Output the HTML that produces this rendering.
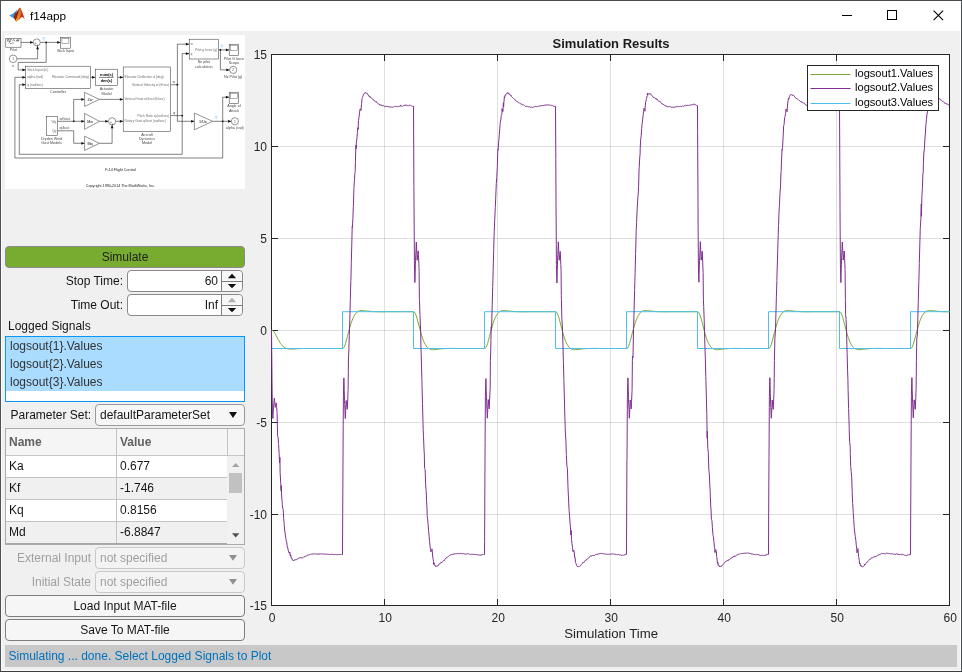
<!DOCTYPE html>
<html><head><meta charset="utf-8"><title>f14app</title>
<style>
html,body{margin:0;padding:0}
body{width:962px;height:672px;overflow:hidden;background:#f0f0f0;font-family:"Liberation Sans",sans-serif;font-size:12px;color:#151515;position:relative}
.abs{position:absolute;box-sizing:border-box}
.frame{left:0;top:0;width:962px;height:672px;border:1px solid #4c5258;border-top-color:#4a4a4a;border-bottom-color:#3c3c3c;pointer-events:none;z-index:10}
.titlebar{left:1px;top:1px;width:960px;height:30px;background:#fff}
.title{left:30px;top:9px;font-size:11.8px;color:#000;line-height:15px}
.plot{position:absolute;left:0;top:0}
.btn{border:1px solid #7d7d7d;border-radius:4px;background:#f6f6f6;text-align:center;line-height:20px;height:22px;left:5px;width:240px}
.lbl{line-height:22px;height:22px;white-space:nowrap}
.r{text-align:right}
.edit{border:1px solid #888;border-radius:4px;background:#fff;height:22px}
.dis{color:#a0a0a0}
</style></head><body>
<div class="abs titlebar"></div>
<svg class="abs" style="left:4px;top:2px" width="26" height="26" viewBox="4 2 26 26">
<defs><linearGradient id="mg" x1="0" y1="0" x2="0" y2="1"><stop offset="0" stop-color="#de5a1b"/><stop offset=".7" stop-color="#ee8823"/><stop offset="1" stop-color="#f8b82b"/></linearGradient>
<linearGradient id="mb" x1="0" y1="0" x2="1" y2="0"><stop offset="0" stop-color="#55aae8"/><stop offset="1" stop-color="#2479c2"/></linearGradient></defs>
<path d="M9 15.5 L12.8 13.7 C14.6 12.6 16 11.2 17.3 9.6 L16.4 12.6 L14.4 15.8 L13.8 18.2 L11.6 17 Z" fill="url(#mb)"/>
<path d="M13.8 18 C14 16.4 14.4 14.6 15 13.6 C16.6 12.4 18 10.4 19.1 7.9 L20.1 7.7 L19.6 14 L16.2 21.6 Z" fill="#8f2410"/>
<path d="M19.9 7.7 C21.6 8.4 22.8 14.6 25 19.2 C23.6 17.8 22.6 16.9 21.7 16.9 C20.6 17.3 19.4 19.4 18.2 20.6 L20.4 12.5 Z" fill="#c3341a"/>
<path d="M19.3 7.9 C20.5 7.4 21.1 9.8 21.3 12.2 C21.1 15.4 18.7 20.2 16.4 22 L15.6 20.6 C17.4 17 18.6 11.4 19.3 7.9 Z" fill="url(#mg)"/>
</svg>
<div class="abs title">f14app</div>
<svg class="abs" style="left:822px;top:1px" width="139" height="30" viewBox="822 1 139 30" shape-rendering="crispEdges">
<line x1="842" y1="15.5" x2="852" y2="15.5" stroke="#000"/>
<rect x="887.5" y="10.5" width="9" height="9" fill="none" stroke="#000"/>
<g shape-rendering="auto"><path d="M933.6 10.6 L943.1 20.1 M943.1 10.6 L933.6 20.1" stroke="#000" stroke-width="1.1" fill="none"/></g>
</svg>

<!-- simulink model picture -->
<svg class="abs" style="left:5px;top:35px" width="240" height="154" viewBox="5 35 240 154">
<style>
.dg{fill:none;stroke:#1a1a1a;stroke-width:.55}
.db{fill:#fff;stroke:#2a2a2a;stroke-width:.5}
.dt{font-family:"Liberation Sans",sans-serif;font-size:3.7px;fill:#4a4a4a}
.pl{font-size:3.3px;fill:#6e6e6e}
.dh{fill:#111;stroke:none}
.bl{fill:none;stroke:#7dbcf0;stroke-width:.45}
</style>
<rect x="5" y="35" width="240" height="154" fill="#fff"/>
<!-- signal lines -->
<g class="dg">
<path d="M21 42.4 H33.2"/>
<path d="M40.3 42.4 H60.5"/>
<path d="M17 58.8 H37.6 V46.2"/>
<path d="M46.2 42.4 V62.4 H18.2 V69.9 H25.7"/>
<path d="M90.5 77.3 H95.3"/>
<path d="M117.6 77.3 H123.2"/>
<path d="M57.7 121.3 H84.6"/>
<path d="M73.7 121.3 V99.4 H84.6"/>
<path d="M57.7 130.8 H73.7 V143.3 H84.6"/>
<path d="M99.4 99.4 H123.2"/>
<path d="M99.4 121.3 H108.5"/>
<path d="M115.7 121.3 H123.2"/>
<path d="M99.4 143.3 H112.1 V125"/>
<path d="M170.6 84.7 H177.4"/>
<path d="M177.4 44.2 V121.3 H194.4"/>
<path d="M177.4 44.2 H189.2"/>
<path d="M170.6 115.6 H182.2"/>
<path d="M182.2 53.6 V154.3 H19.3 V84.7 H25.7"/>
<path d="M182.2 53.6 H189.2"/>
<path d="M218.6 49.9 H229.2"/>
<path d="M220.4 49.9 V69.9 H229.6"/>
<path d="M212.6 121.3 H231.3"/>
<path d="M222.7 97.2 V158 H14.9 V77.3 H25.7"/>
<path d="M222.7 97.2 H229.2"/>
</g>
<!-- arrow heads -->
<g class="dh">
<path d="M33.4 42.4 l-3.3 -1.4 v2.8z"/>
<path d="M60.5 42.4 l-3.3 -1.4 v2.8z"/>
<path d="M37.6 46 l-1.4 3.3 h2.8z"/>
<path d="M25.7 69.9 l-3.3 -1.4 v2.8z"/>
<path d="M25.7 77.3 l-3.3 -1.4 v2.8z"/>
<path d="M25.7 84.7 l-3.3 -1.4 v2.8z"/>
<path d="M95.3 77.3 l-3.3 -1.4 v2.8z"/>
<path d="M123.2 77.3 l-3.3 -1.4 v2.8z"/>
<path d="M84.6 99.4 l-3.3 -1.4 v2.8z"/>
<path d="M84.6 121.3 l-3.3 -1.4 v2.8z"/>
<path d="M84.6 143.3 l-3.3 -1.4 v2.8z"/>
<path d="M123.2 99.4 l-3.3 -1.4 v2.8z"/>
<path d="M108.6 121.3 l-3.3 -1.4 v2.8z"/>
<path d="M123.2 121.3 l-3.3 -1.4 v2.8z"/>
<path d="M112.1 124.9 l-1.4 3.3 h2.8z"/>
<path d="M189.2 44.2 l-3.3 -1.4 v2.8z"/>
<path d="M189.2 53.6 l-3.3 -1.4 v2.8z"/>
<path d="M194.4 121.3 l-3.3 -1.4 v2.8z"/>
<path d="M229.2 49.9 l-3.3 -1.4 v2.8z"/>
<path d="M229.6 69.9 l-3.3 -1.4 v2.8z"/>
<path d="M231.3 121.3 l-3.3 -1.4 v2.8z"/>
<path d="M229.2 97.2 l-3.3 -1.4 v2.8z"/>
<circle cx="46.2" cy="42.4" r=".9"/>
<circle cx="73.7" cy="121.3" r=".9"/>
<circle cx="177.4" cy="84.7" r=".9"/>
<circle cx="182.2" cy="115.6" r=".9"/>
<circle cx="220.4" cy="49.9" r=".9"/>
<circle cx="222.7" cy="121.3" r=".9"/>
</g>
<!-- blocks -->
<g class="db">
<rect x="5.8" y="38.5" width="15.2" height="8.7"/>
<circle cx="36.8" cy="42.4" r="3.5"/>
<rect x="60.5" y="37.4" width="9.8" height="10.8"/>
<rect x="61.9" y="38.5" width="7" height="5.2" style="stroke:#555;stroke-width:.45"/>
<circle cx="13.1" cy="58.8" r="3.8"/>
<rect x="25.7" y="66.2" width="64.8" height="22.2"/>
<rect x="95.3" y="69.2" width="22.3" height="16.5"/>
<rect x="123.2" y="67" width="47.4" height="64.4"/>
<path d="M84.6 92.4 L99.4 99.4 L84.6 106.4 Z"/>
<path d="M84.6 113.3 L99.4 121.3 L84.6 129.3 Z"/>
<path d="M84.6 136.2 L99.4 143.3 L84.6 150.5 Z"/>
<circle cx="112.1" cy="121.3" r="3.6"/>
<rect x="46.4" y="116.4" width="11.3" height="18.9"/>
<rect x="189.2" y="39.2" width="29.4" height="19.8"/>
<rect x="229.2" y="44.2" width="9.4" height="11.2"/>
<rect x="230.5" y="45.3" width="6.8" height="5.3" style="stroke:#555;stroke-width:.45"/>
<circle cx="233.2" cy="69.9" r="3.6"/>
<rect x="229.2" y="92.2" width="9.4" height="11.4"/>
<rect x="230.5" y="93.3" width="6.8" height="5.3" style="stroke:#555;stroke-width:.45"/>
<path d="M194.4 113.1 L212.6 121.3 L194.4 129.8 Z"/>
<circle cx="234.9" cy="121.3" r="3.6"/>
</g>
<!-- pilot waveform icons -->
<path class="dg" style="stroke-width:.5" d="M7.5 41.5 v-2 h1.4 v2 h1.4 v-2 h1.4 M12.4 41.2 l1.2 -1.8 l1.2 1.8 M16 41.4 l1.3 -1.9 v1.9 l1.3 -1.9 v1.9"/>
<path class="dg" style="stroke-width:.5" d="M8.6 43.2 q.8 -1.5 1.6 0 t1.6 0 M12.2 43.2 q.8 -1.5 1.6 0"/>
<line x1="99" y1="77.4" x2="113.5" y2="77.4" class="dg"/>
<!-- logging badges -->
<g class="bl">
<path d="M42.3 37.6 h2.8 M42.6 38.7 h2.2 M43 39.8 h1.4 M43.7 39.8 v1"/>
<path d="M220.6 45 h2.8 M220.9 46.1 h2.2 M221.3 47.2 h1.4"/>
<path d="M214.7 116.3 h2.8 M215 117.4 h2.2 M215.4 118.5 h1.4"/>
</g>
<!-- text -->
<g class="dt">
<text x="13.4" y="50.9" text-anchor="middle">Pilot</text>
<text x="65.5" y="52" text-anchor="middle">Stick Input</text>
<text x="13.1" y="60" text-anchor="middle" style="font-size:3.4px">1</text>
<text x="13.1" y="67.3" text-anchor="middle">u</text>
<text x="34.6" y="43.6" style="font-size:3.4px;fill:#000">+</text>
<text x="36.5" y="45.8" style="font-size:3.4px;fill:#000">+</text>
<text class="pl" x="27.2" y="71.1">Stick Input (in)</text>
<text class="pl" x="27.2" y="77.9">alpha (rad)</text>
<text class="pl" x="27.2" y="85.9">q (rad/sec)</text>
<text class="pl" x="89" y="77.9" text-anchor="end">Elevator Command (deg)</text>
<text x="58" y="93" text-anchor="middle">Controller</text>
<text x="106.5" y="75.7" text-anchor="middle" style="font-size:3.9px;font-weight:bold;fill:#000">num(s)</text>
<text x="106.5" y="81.6" text-anchor="middle" style="font-size:3.9px;font-weight:bold;fill:#000">den(s)</text>
<text x="106.5" y="90.3" text-anchor="middle">Actuator</text>
<text x="106.5" y="94.7" text-anchor="middle">Model</text>
<text class="pl" x="124.6" y="77.8">Elevator Deflection d (deg)</text>
<text class="pl" x="169.4" y="85.9" text-anchor="end">Vertical Velocity w (ft/sec)</text>
<text class="pl" x="124.6" y="99.9">Vertical Gust wGust (ft/sec)</text>
<text class="pl" x="169.4" y="116.8" text-anchor="end">Pitch Rate q (rad/sec)</text>
<text class="pl" x="124.6" y="121.8">Rotary Gust qGust (rad/sec)</text>
<text x="147" y="135.6" text-anchor="middle">Aircraft</text>
<text x="147" y="139.6" text-anchor="middle">Dynamics</text>
<text x="147" y="143.6" text-anchor="middle">Model</text>
<text x="90" y="100.8" text-anchor="middle" style="fill:#111">Zw</text>
<text x="90" y="122.7" text-anchor="middle" style="fill:#111">Mw</text>
<text x="90" y="144.7" text-anchor="middle" style="fill:#111">Mq</text>
<text x="109.9" y="122.5" style="font-size:3.4px;fill:#000">+</text>
<text x="111.8" y="124.7" style="font-size:3.4px;fill:#000">+</text>
<text class="pl" x="56.4" y="122.5" text-anchor="end">Wg</text>
<text class="pl" x="56.4" y="132" text-anchor="end">Qg</text>
<text x="59.4" y="120">wGust</text>
<text x="59.4" y="129">qGust</text>
<text x="51.6" y="139.9" text-anchor="middle">Dryden Wind</text>
<text x="51.6" y="143.9" text-anchor="middle">Gust Models</text>
<text x="173.8" y="83.2" text-anchor="middle">w</text>
<text x="174" y="114.2" text-anchor="middle">q</text>
<text class="pl" x="190.4" y="45.4">w</text>
<text class="pl" x="190.4" y="54.8">q</text>
<text class="pl" x="217.4" y="51.1" text-anchor="end">Pilot g force (g)</text>
<text x="203.8" y="63.3" text-anchor="middle">Nz pilot</text>
<text x="203.8" y="67.8" text-anchor="middle">calculation</text>
<text x="234" y="59.8" text-anchor="middle">Pilot G force</text>
<text x="234" y="63.9" text-anchor="middle">Scope</text>
<text x="233.2" y="71.1" text-anchor="middle" style="font-size:3.4px">2</text>
<text x="233.2" y="77.9" text-anchor="middle">Nz Pilot (g)</text>
<text x="234" y="107" text-anchor="middle">Angle of</text>
<text x="234" y="111.6" text-anchor="middle">Attack</text>
<text x="203" y="122.6" text-anchor="middle" style="fill:#111">1/Uo</text>
<text x="234.9" y="122.5" text-anchor="middle" style="font-size:3.4px">1</text>
<text x="234.9" y="129" text-anchor="middle">alpha (rad)</text>
<text x="120.5" y="170.8" text-anchor="middle" style="fill:#222">F-14 Flight Control</text>
<text x="120.5" y="186.6" text-anchor="middle" style="fill:#222">Copyright 1990-2014 The MathWorks, Inc.</text>
</g>
</svg>


<!-- left controls -->
<div class="abs btn" style="top:246px;background:#77ac30;border-color:#8a8a8a;color:#212121">Simulate</div>
<div class="abs lbl r" style="left:5px;width:118px;top:270px">Stop Time:</div>
<div class="abs edit" style="left:127px;top:270px;width:116px"></div>
<div class="abs lbl r" style="left:127px;width:91px;top:270px">60</div>
<div class="abs" style="left:221px;top:271px;width:1px;height:20px;background:#7d7d7d"></div>
<svg class="abs" style="left:222px;top:271px" width="20" height="20" viewBox="0 0 20 20"><path d="M0 0 H16 Q20 0 20 4 V16 Q20 20 16 20 H0 Z" fill="#f7f7f7"/><path d="M0 10.5 H20" stroke="#7d7d7d"/><path d="M5.8 7.2 L10 2.8 L14.2 7.2 Z M5.8 12.9 L10 17.2 L14.2 12.9 Z" fill="#111"/></svg>
<div class="abs lbl r" style="left:5px;width:118px;top:294px">Time Out:</div>
<div class="abs edit" style="left:127px;top:294px;width:116px"></div>
<div class="abs lbl r" style="left:127px;width:91px;top:294px">Inf</div>
<div class="abs" style="left:221px;top:295px;width:1px;height:20px;background:#7d7d7d"></div>
<svg class="abs" style="left:222px;top:295px" width="20" height="20" viewBox="0 0 20 20"><path d="M0 0 H16 Q20 0 20 4 V16 Q20 20 16 20 H0 Z" fill="#f7f7f7"/><path d="M0 10.5 H20" stroke="#7d7d7d"/><path d="M5.8 7.2 L10 2.8 L14.2 7.2 Z" fill="#b0b0b0"/><path d="M5.8 12.9 L10 17.2 L14.2 12.9 Z" fill="#111"/></svg>
<div class="abs lbl" style="left:8px;top:315px">Logged Signals</div>
<div class="abs" style="left:5px;top:336px;width:240px;height:66px;border:1px solid #0a96fa;background:#fff">
<div style="background:#a9dcff;height:54px;line-height:18px;padding-left:4px;color:#333">logsout{1}.Values<br>logsout{2}.Values<br>logsout{3}.Values</div></div>
<div class="abs lbl" style="left:10.5px;top:404px">Parameter Set:</div>
<div class="abs edit" style="left:95px;top:404px;width:150px;background:#f6f6f6;border-color:#999;line-height:20px;padding-left:4px">defaultParameterSet</div>
<svg class="abs" style="left:227px;top:410px" width="12" height="10" viewBox="0 0 12 10"><path d="M2 2 L10 2 L6 8 Z" fill="#111"/></svg>

<!-- table -->
<div class="abs" style="left:5px;top:428px;width:240px;height:117px;border:1px solid #ababab;background:#f5f5f5"></div>
<div class="abs" style="left:6px;top:455px;width:221px;height:22px;background:#fff"></div>
<div class="abs" style="left:6px;top:477px;width:221px;height:22px;background:#f0f0f0"></div>
<div class="abs" style="left:6px;top:499px;width:221px;height:22px;background:#fff"></div>
<div class="abs" style="left:6px;top:521px;width:221px;height:23px;background:#f0f0f0"></div>
<div class="abs" style="left:6px;top:455px;width:238px;height:1px;background:#c4c4c4"></div>
<div class="abs" style="left:6px;top:477px;width:221px;height:1px;background:#c4c4c4"></div>
<div class="abs" style="left:6px;top:499px;width:221px;height:1px;background:#c4c4c4"></div>
<div class="abs" style="left:6px;top:521px;width:221px;height:1px;background:#c4c4c4"></div>
<div class="abs" style="left:116px;top:429px;width:1px;height:115px;background:#c4c4c4"></div>
<div class="abs" style="left:227px;top:429px;width:1px;height:26px;background:#c4c4c4"></div>
<div class="abs" style="left:227px;top:456px;width:17px;height:88px;background:#f1f1f1"></div>
<div class="abs" style="left:229px;top:473px;width:13px;height:20px;background:#c1c1c1"></div>
<div class="abs" style="left:6px;top:543px;width:221px;height:1px;background:#a6a6a6"></div>
<svg class="abs" style="left:227px;top:456px" width="17" height="88" viewBox="0 0 17 88"><path d="M5 11 L8.7 7 L12.4 11 Z" fill="#a3a3a3"/><path d="M5 77.3 L8.7 81.5 L12.4 77.3 Z" fill="#505050"/></svg>
<div class="abs lbl" style="left:9px;top:431px;font-weight:bold;color:#616161">Name</div>
<div class="abs lbl" style="left:120px;top:431px;font-weight:bold;color:#616161">Value</div>
<div class="abs lbl" style="left:9px;top:455px">Ka</div><div class="abs lbl" style="left:120px;top:455px">0.677</div>
<div class="abs lbl" style="left:9px;top:477px">Kf</div><div class="abs lbl" style="left:120px;top:477px">-1.746</div>
<div class="abs lbl" style="left:9px;top:499px">Kq</div><div class="abs lbl" style="left:120px;top:499px">0.8156</div>
<div class="abs lbl" style="left:9px;top:521px">Md</div><div class="abs lbl" style="left:120px;top:521px">-6.8847</div>

<div class="abs lbl r dis" style="left:5px;width:86px;top:547px">External Input</div>
<div class="abs edit dis" style="left:95px;top:547px;width:150px;background:#f3f3f3;border-color:#c9c9c9;line-height:20px;padding-left:4px">not specified</div>
<svg class="abs" style="left:227px;top:553px" width="12" height="10" viewBox="0 0 12 10"><path d="M2 2 L10 2 L6 7.7 Z" fill="#8f8f8f"/></svg>
<div class="abs lbl r dis" style="left:5px;width:86px;top:571px">Initial State</div>
<div class="abs edit dis" style="left:95px;top:571px;width:150px;background:#f3f3f3;border-color:#c9c9c9;line-height:20px;padding-left:4px">not specified</div>
<svg class="abs" style="left:227px;top:577px" width="12" height="10" viewBox="0 0 12 10"><path d="M2 2 L10 2 L6 7.7 Z" fill="#8f8f8f"/></svg>
<div class="abs btn" style="top:595px">Load Input MAT-file</div>
<div class="abs btn" style="top:619px">Save To MAT-file</div>
<div class="abs" style="left:5px;top:645px;width:952px;height:22px;background:#c8c8c8;color:#0072bd;line-height:22px;padding-left:3.5px">Simulating ... done. Select Logged Signals to Plot</div>

<svg class="plot" width="962" height="672" viewBox="0 0 962 672">
<style>
.g{stroke:#262626;stroke-opacity:.15;stroke-width:1;shape-rendering:crispEdges}
.a{stroke:#262626;stroke-width:1;shape-rendering:crispEdges;fill:none}
.plot text{font-family:"Liberation Sans",sans-serif;font-size:12px;fill:#262626}
.c{fill:none;stroke-width:1;stroke-linejoin:round}
</style>
<rect x="271.5" y="54.5" width="678" height="551" fill="#fff"/>
<line x1="384.5" y1="55" x2="384.5" y2="605" class="g"/><line x1="497.5" y1="55" x2="497.5" y2="605" class="g"/><line x1="610.5" y1="55" x2="610.5" y2="605" class="g"/><line x1="723.5" y1="55" x2="723.5" y2="605" class="g"/><line x1="836.5" y1="55" x2="836.5" y2="605" class="g"/><line x1="272" y1="146.5" x2="949" y2="146.5" class="g"/><line x1="272" y1="238.5" x2="949" y2="238.5" class="g"/><line x1="272" y1="330.5" x2="949" y2="330.5" class="g"/><line x1="272" y1="422.5" x2="949" y2="422.5" class="g"/><line x1="272" y1="514.5" x2="949" y2="514.5" class="g"/>
<clipPath id="cp"><rect x="271" y="54" width="679" height="552"/></clipPath>
<line x1="384.5" y1="55" x2="384.5" y2="61" class="a"/><line x1="384.5" y1="599" x2="384.5" y2="605" class="a"/><line x1="497.5" y1="55" x2="497.5" y2="61" class="a"/><line x1="497.5" y1="599" x2="497.5" y2="605" class="a"/><line x1="610.5" y1="55" x2="610.5" y2="61" class="a"/><line x1="610.5" y1="599" x2="610.5" y2="605" class="a"/><line x1="723.5" y1="55" x2="723.5" y2="61" class="a"/><line x1="723.5" y1="599" x2="723.5" y2="605" class="a"/><line x1="836.5" y1="55" x2="836.5" y2="61" class="a"/><line x1="836.5" y1="599" x2="836.5" y2="605" class="a"/><line x1="272" y1="146.5" x2="278" y2="146.5" class="a"/><line x1="943" y1="146.5" x2="949" y2="146.5" class="a"/><line x1="272" y1="238.5" x2="278" y2="238.5" class="a"/><line x1="943" y1="238.5" x2="949" y2="238.5" class="a"/><line x1="272" y1="330.5" x2="278" y2="330.5" class="a"/><line x1="943" y1="330.5" x2="949" y2="330.5" class="a"/><line x1="272" y1="422.5" x2="278" y2="422.5" class="a"/><line x1="943" y1="422.5" x2="949" y2="422.5" class="a"/><line x1="272" y1="514.5" x2="278" y2="514.5" class="a"/><line x1="943" y1="514.5" x2="949" y2="514.5" class="a"/>
<rect x="271.5" y="54.5" width="678" height="551" class="a"/>
<g clip-path="url(#cp)">
<path class="c" stroke="#77ac30" d="M271.5,330.1 L272.4,330.3 L273.3,330.9 L274.2,332.1 L275.1,333.6 L276.0,335.3 L276.9,337.0 L277.8,338.8 L278.7,340.5 L279.6,342.0 L280.5,343.4 L281.4,344.6 L282.3,345.7 L283.3,346.5 L284.2,347.2 L285.1,347.8 L286.0,348.2 L286.9,348.6 L287.8,348.8 L288.7,349.0 L289.6,349.1 L290.5,349.1 L291.4,349.1 L292.3,349.1 L293.2,349.0 L294.1,349.0 L295.0,348.9 L295.9,348.9 L296.8,348.8 L297.7,348.7 L298.6,348.7 L299.5,348.6 L300.4,348.6 L301.3,348.6 L302.2,348.5 L303.1,348.5 L304.0,348.5 L304.9,348.5 L305.9,348.5 L306.8,348.5 L307.7,348.5 L308.6,348.5 L309.5,348.5 L310.4,348.5 L311.3,348.5 L312.2,348.5 L313.1,348.5 L314.0,348.5 L314.9,348.5 L315.8,348.5 L316.7,348.5 L317.6,348.5 L318.5,348.5 L319.4,348.5 L320.3,348.5 L321.2,348.5 L322.1,348.5 L323.0,348.5 L323.9,348.5 L324.8,348.5 L325.7,348.5 L326.6,348.5 L327.5,348.5 L328.5,348.5 L329.4,348.5 L330.3,348.5 L331.2,348.5 L332.1,348.5 L333.0,348.5 L333.9,348.5 L334.8,348.5 L335.7,348.5 L336.6,348.5 L337.5,348.5 L338.4,348.5 L339.3,348.5 L340.2,348.5 L341.1,348.5 L342.0,348.5 L342.9,348.4 L343.8,347.7 L344.7,345.9 L345.6,343.3 L346.5,340.0 L347.4,336.6 L348.3,333.0 L349.2,329.5 L350.1,326.3 L351.1,323.3 L352.0,320.7 L352.9,318.5 L353.8,316.5 L354.7,314.9 L355.6,313.7 L356.5,312.6 L357.4,311.9 L358.3,311.3 L359.2,310.9 L360.1,310.7 L361.0,310.5 L361.9,310.5 L362.8,310.5 L363.7,310.6 L364.6,310.6 L365.5,310.8 L366.4,310.9 L367.3,311.0 L368.2,311.1 L369.1,311.2 L370.0,311.3 L370.9,311.4 L371.8,311.5 L372.7,311.6 L373.7,311.6 L374.6,311.7 L375.5,311.7 L376.4,311.7 L377.3,311.7 L378.2,311.7 L379.1,311.8 L380.0,311.8 L380.9,311.8 L381.8,311.8 L382.7,311.8 L383.6,311.8 L384.5,311.8 L385.4,311.7 L386.3,311.7 L387.2,311.7 L388.1,311.7 L389.0,311.7 L389.9,311.7 L390.8,311.7 L391.7,311.7 L392.6,311.7 L393.5,311.7 L394.4,311.7 L395.3,311.7 L396.3,311.7 L397.2,311.7 L398.1,311.7 L399.0,311.7 L399.9,311.7 L400.8,311.7 L401.7,311.7 L402.6,311.7 L403.5,311.7 L404.4,311.7 L405.3,311.7 L406.2,311.7 L407.1,311.7 L408.0,311.7 L408.9,311.7 L409.8,311.7 L410.7,311.7 L411.6,311.7 L412.5,311.7 L413.4,311.7 L414.3,312.0 L415.2,313.2 L416.1,315.4 L417.0,318.3 L417.9,321.7 L418.9,325.3 L419.8,328.8 L420.7,332.2 L421.6,335.3 L422.5,338.1 L423.4,340.5 L424.3,342.7 L425.2,344.4 L426.1,345.9 L427.0,347.0 L427.9,347.9 L428.8,348.6 L429.7,349.1 L430.6,349.4 L431.5,349.6 L432.4,349.7 L433.3,349.7 L434.2,349.7 L435.1,349.6 L436.0,349.5 L436.9,349.4 L437.8,349.3 L438.7,349.1 L439.6,349.0 L440.5,348.9 L441.5,348.8 L442.4,348.7 L443.3,348.7 L444.2,348.6 L445.1,348.6 L446.0,348.5 L446.9,348.5 L447.8,348.5 L448.7,348.5 L449.6,348.4 L450.5,348.4 L451.4,348.4 L452.3,348.4 L453.2,348.4 L454.1,348.4 L455.0,348.4 L455.9,348.4 L456.8,348.5 L457.7,348.5 L458.6,348.5 L459.5,348.5 L460.4,348.5 L461.3,348.5 L462.2,348.5 L463.1,348.5 L464.1,348.5 L465.0,348.5 L465.9,348.5 L466.8,348.5 L467.7,348.5 L468.6,348.5 L469.5,348.5 L470.4,348.5 L471.3,348.5 L472.2,348.5 L473.1,348.5 L474.0,348.5 L474.9,348.5 L475.8,348.5 L476.7,348.5 L477.6,348.5 L478.5,348.5 L479.4,348.5 L480.3,348.5 L481.2,348.5 L482.1,348.5 L483.0,348.5 L483.9,348.5 L484.8,348.5 L485.7,347.8 L486.7,346.1 L487.6,343.5 L488.5,340.3 L489.4,336.8 L490.3,333.3 L491.2,329.8 L492.1,326.5 L493.0,323.6 L493.9,320.9 L494.8,318.6 L495.7,316.7 L496.6,315.1 L497.5,313.7 L498.4,312.7 L499.3,311.9 L500.2,311.3 L501.1,310.9 L502.0,310.7 L502.9,310.5 L503.8,310.5 L504.7,310.5 L505.6,310.5 L506.5,310.6 L507.4,310.7 L508.3,310.9 L509.3,311.0 L510.2,311.1 L511.1,311.2 L512.0,311.3 L512.9,311.4 L513.8,311.5 L514.7,311.6 L515.6,311.6 L516.5,311.7 L517.4,311.7 L518.3,311.7 L519.2,311.7 L520.1,311.7 L521.0,311.8 L521.9,311.8 L522.8,311.8 L523.7,311.8 L524.6,311.8 L525.5,311.8 L526.4,311.8 L527.3,311.7 L528.2,311.7 L529.1,311.7 L530.0,311.7 L530.9,311.7 L531.9,311.7 L532.8,311.7 L533.7,311.7 L534.6,311.7 L535.5,311.7 L536.4,311.7 L537.3,311.7 L538.2,311.7 L539.1,311.7 L540.0,311.7 L540.9,311.7 L541.8,311.7 L542.7,311.7 L543.6,311.7 L544.5,311.7 L545.4,311.7 L546.3,311.7 L547.2,311.7 L548.1,311.7 L549.0,311.7 L549.9,311.7 L550.8,311.7 L551.7,311.7 L552.6,311.7 L553.5,311.7 L554.5,311.7 L555.4,311.7 L556.3,311.9 L557.2,313.0 L558.1,315.2 L559.0,318.1 L559.9,321.4 L560.8,325.0 L561.7,328.5 L562.6,331.9 L563.5,335.0 L564.4,337.9 L565.3,340.4 L566.2,342.5 L567.1,344.3 L568.0,345.8 L568.9,347.0 L569.8,347.9 L570.7,348.6 L571.6,349.1 L572.5,349.4 L573.4,349.6 L574.3,349.7 L575.2,349.7 L576.1,349.7 L577.1,349.6 L578.0,349.5 L578.9,349.4 L579.8,349.3 L580.7,349.2 L581.6,349.0 L582.5,348.9 L583.4,348.8 L584.3,348.8 L585.2,348.7 L586.1,348.6 L587.0,348.6 L587.9,348.5 L588.8,348.5 L589.7,348.5 L590.6,348.5 L591.5,348.4 L592.4,348.4 L593.3,348.4 L594.2,348.4 L595.1,348.4 L596.0,348.4 L596.9,348.4 L597.8,348.4 L598.7,348.5 L599.7,348.5 L600.6,348.5 L601.5,348.5 L602.4,348.5 L603.3,348.5 L604.2,348.5 L605.1,348.5 L606.0,348.5 L606.9,348.5 L607.8,348.5 L608.7,348.5 L609.6,348.5 L610.5,348.5 L611.4,348.5 L612.3,348.5 L613.2,348.5 L614.1,348.5 L615.0,348.5 L615.9,348.5 L616.8,348.5 L617.7,348.5 L618.6,348.5 L619.5,348.5 L620.4,348.5 L621.3,348.5 L622.3,348.5 L623.2,348.5 L624.1,348.5 L625.0,348.5 L625.9,348.5 L626.8,348.5 L627.7,347.9 L628.6,346.2 L629.5,343.7 L630.4,340.6 L631.3,337.1 L632.2,333.5 L633.1,330.0 L634.0,326.8 L634.9,323.8 L635.8,321.1 L636.7,318.8 L637.6,316.8 L638.5,315.2 L639.4,313.8 L640.3,312.8 L641.2,312.0 L642.1,311.4 L643.0,311.0 L643.9,310.7 L644.9,310.5 L645.8,310.5 L646.7,310.5 L647.6,310.5 L648.5,310.6 L649.4,310.7 L650.3,310.9 L651.2,311.0 L652.1,311.1 L653.0,311.2 L653.9,311.3 L654.8,311.4 L655.7,311.5 L656.6,311.6 L657.5,311.6 L658.4,311.7 L659.3,311.7 L660.2,311.7 L661.1,311.7 L662.0,311.7 L662.9,311.8 L663.8,311.8 L664.7,311.8 L665.6,311.8 L666.5,311.8 L667.5,311.8 L668.4,311.8 L669.3,311.7 L670.2,311.7 L671.1,311.7 L672.0,311.7 L672.9,311.7 L673.8,311.7 L674.7,311.7 L675.6,311.7 L676.5,311.7 L677.4,311.7 L678.3,311.7 L679.2,311.7 L680.1,311.7 L681.0,311.7 L681.9,311.7 L682.8,311.7 L683.7,311.7 L684.6,311.7 L685.5,311.7 L686.4,311.7 L687.3,311.7 L688.2,311.7 L689.1,311.7 L690.1,311.7 L691.0,311.7 L691.9,311.7 L692.8,311.7 L693.7,311.7 L694.6,311.7 L695.5,311.7 L696.4,311.7 L697.3,311.7 L698.2,311.9 L699.1,312.9 L700.0,315.0 L700.9,317.9 L701.8,321.2 L702.7,324.7 L703.6,328.3 L704.5,331.7 L705.4,334.8 L706.3,337.7 L707.2,340.2 L708.1,342.4 L709.0,344.2 L709.9,345.7 L710.8,346.9 L711.7,347.8 L712.7,348.5 L713.6,349.0 L714.5,349.4 L715.4,349.6 L716.3,349.7 L717.2,349.7 L718.1,349.7 L719.0,349.6 L719.9,349.5 L720.8,349.4 L721.7,349.3 L722.6,349.2 L723.5,349.0 L724.4,348.9 L725.3,348.8 L726.2,348.8 L727.1,348.7 L728.0,348.6 L728.9,348.6 L729.8,348.5 L730.7,348.5 L731.6,348.5 L732.5,348.5 L733.4,348.4 L734.3,348.4 L735.3,348.4 L736.2,348.4 L737.1,348.4 L738.0,348.4 L738.9,348.4 L739.8,348.4 L740.7,348.5 L741.6,348.5 L742.5,348.5 L743.4,348.5 L744.3,348.5 L745.2,348.5 L746.1,348.5 L747.0,348.5 L747.9,348.5 L748.8,348.5 L749.7,348.5 L750.6,348.5 L751.5,348.5 L752.4,348.5 L753.3,348.5 L754.2,348.5 L755.1,348.5 L756.0,348.5 L756.9,348.5 L757.9,348.5 L758.8,348.5 L759.7,348.5 L760.6,348.5 L761.5,348.5 L762.4,348.5 L763.3,348.5 L764.2,348.5 L765.1,348.5 L766.0,348.5 L766.9,348.5 L767.8,348.5 L768.7,348.5 L769.6,348.0 L770.5,346.5 L771.4,344.0 L772.3,340.9 L773.2,337.4 L774.1,333.9 L775.0,330.4 L775.9,327.1 L776.8,324.1 L777.7,321.3 L778.6,319.0 L779.5,317.0 L780.5,315.3 L781.4,314.0 L782.3,312.9 L783.2,312.0 L784.1,311.4 L785.0,311.0 L785.9,310.7 L786.8,310.6 L787.7,310.5 L788.6,310.5 L789.5,310.5 L790.4,310.6 L791.3,310.7 L792.2,310.8 L793.1,311.0 L794.0,311.1 L794.9,311.2 L795.8,311.3 L796.7,311.4 L797.6,311.5 L798.5,311.5 L799.4,311.6 L800.3,311.6 L801.2,311.7 L802.1,311.7 L803.1,311.7 L804.0,311.7 L804.9,311.8 L805.8,311.8 L806.7,311.8 L807.6,311.8 L808.5,311.8 L809.4,311.8 L810.3,311.8 L811.2,311.7 L812.1,311.7 L813.0,311.7 L813.9,311.7 L814.8,311.7 L815.7,311.7 L816.6,311.7 L817.5,311.7 L818.4,311.7 L819.3,311.7 L820.2,311.7 L821.1,311.7 L822.0,311.7 L822.9,311.7 L823.8,311.7 L824.7,311.7 L825.7,311.7 L826.6,311.7 L827.5,311.7 L828.4,311.7 L829.3,311.7 L830.2,311.7 L831.1,311.7 L832.0,311.7 L832.9,311.7 L833.8,311.7 L834.7,311.7 L835.6,311.7 L836.5,311.7 L837.4,311.7 L838.3,311.7 L839.2,311.7 L840.1,311.8 L841.0,312.8 L841.9,314.8 L842.8,317.6 L843.7,320.9 L844.6,324.4 L845.5,328.0 L846.4,331.4 L847.3,334.6 L848.3,337.5 L849.2,340.0 L850.1,342.2 L851.0,344.1 L851.9,345.6 L852.8,346.8 L853.7,347.7 L854.6,348.5 L855.5,349.0 L856.4,349.4 L857.3,349.6 L858.2,349.7 L859.1,349.7 L860.0,349.7 L860.9,349.6 L861.8,349.5 L862.7,349.4 L863.6,349.3 L864.5,349.2 L865.4,349.1 L866.3,348.9 L867.2,348.8 L868.1,348.8 L869.0,348.7 L869.9,348.6 L870.9,348.6 L871.8,348.5 L872.7,348.5 L873.6,348.5 L874.5,348.5 L875.4,348.4 L876.3,348.4 L877.2,348.4 L878.1,348.4 L879.0,348.4 L879.9,348.4 L880.8,348.4 L881.7,348.4 L882.6,348.5 L883.5,348.5 L884.4,348.5 L885.3,348.5 L886.2,348.5 L887.1,348.5 L888.0,348.5 L888.9,348.5 L889.8,348.5 L890.7,348.5 L891.6,348.5 L892.5,348.5 L893.5,348.5 L894.4,348.5 L895.3,348.5 L896.2,348.5 L897.1,348.5 L898.0,348.5 L898.9,348.5 L899.8,348.5 L900.7,348.5 L901.6,348.5 L902.5,348.5 L903.4,348.5 L904.3,348.5 L905.2,348.5 L906.1,348.5 L907.0,348.5 L907.9,348.5 L908.8,348.5 L909.7,348.5 L910.6,348.5 L911.5,348.1 L912.4,346.6 L913.3,344.2 L914.2,341.1 L915.1,337.7 L916.1,334.1 L917.0,330.6 L917.9,327.3 L918.8,324.3 L919.7,321.5 L920.6,319.2 L921.5,317.1 L922.4,315.4 L923.3,314.0 L924.2,312.9 L925.1,312.1 L926.0,311.5 L926.9,311.0 L927.8,310.7 L928.7,310.6 L929.6,310.5 L930.5,310.5 L931.4,310.5 L932.3,310.6 L933.2,310.7 L934.1,310.8 L935.0,311.0 L935.9,311.1 L936.8,311.2 L937.7,311.3 L938.7,311.4 L939.6,311.5 L940.5,311.5 L941.4,311.6 L942.3,311.6 L943.2,311.7 L944.1,311.7 L945.0,311.7 L945.9,311.7 L946.8,311.8 L947.7,311.8 L948.6,311.8 L949.5,311.8"/>
<path class="c" stroke="#4dbeee" d="M271.5,348.5 L342.5,348.5 L342.5,311.7 L413.5,311.7 L413.5,348.5 L484.5,348.5 L484.5,311.7 L555.5,311.7 L555.5,348.5 L626.5,348.5 L626.5,311.7 L697.5,311.7 L697.5,348.5 L768.5,348.5 L768.5,311.7 L839.5,311.7 L839.5,348.5 L910.5,348.5 L910.5,311.7 L949.5,311.7"/>
<path class="c" stroke="#7e2f8e" d="M271.5,330.1 L272.0,378.4 L272.0,382.0 L272.4,409.2 L272.5,411.8 L272.9,418.5 L273.0,415.1 L273.5,407.2 L274.0,401.7 L274.3,398.2 L274.6,400.6 L275.1,405.3 L275.2,407.4 L275.6,406.2 L276.1,403.5 L276.2,402.9 L276.6,406.7 L277.1,412.2 L277.1,413.3 L277.4,427.1 L277.6,436.4 L278.1,437.0 L278.5,443.9 L278.6,444.4 L279.1,453.5 L279.6,463.0 L279.9,457.4 L280.1,472.2 L280.7,482.2 L281.2,491.0 L281.2,485.6 L281.7,497.0 L282.2,502.6 L282.3,504.5 L282.7,508.1 L283.2,509.8 L283.7,518.6 L284.2,523.7 L284.2,524.5 L284.7,531.0 L285.1,532.9 L285.2,534.0 L285.7,537.4 L286.2,540.6 L286.8,542.5 L287.1,545.4 L287.3,546.9 L287.8,548.0 L288.3,550.4 L288.8,552.4 L289.0,553.0 L289.3,553.3 L289.8,552.1 L289.9,552.0 L290.3,555.9 L290.6,554.8 L290.8,555.3 L291.3,558.3 L291.5,557.9 L291.8,558.4 L292.3,559.7 L292.4,560.2 L292.9,559.9 L293.4,560.1 L293.5,560.9 L293.9,560.4 L294.4,560.1 L294.9,559.6 L295.0,559.5 L295.4,560.2 L295.9,559.6 L296.4,559.7 L296.5,559.4 L296.9,559.3 L297.4,558.9 L297.9,558.5 L298.4,558.6 L298.5,558.3 L299.0,558.0 L299.5,558.0 L300.0,557.4 L300.5,557.9 L301.0,558.0 L301.5,557.6 L302.0,558.0 L302.0,558.2 L302.5,557.9 L303.0,557.5 L303.5,557.2 L304.0,556.6 L304.6,556.8 L305.1,556.4 L305.2,556.4 L305.6,556.3 L306.1,556.5 L306.6,555.8 L307.1,555.2 L307.6,554.9 L308.0,555.1 L308.1,555.0 L308.6,555.1 L309.1,555.2 L309.6,554.6 L310.1,554.1 L310.7,554.3 L311.2,554.3 L311.7,554.0 L312.2,553.8 L312.7,554.1 L313.0,554.1 L313.2,553.7 L313.7,554.0 L314.2,553.6 L314.7,554.1 L315.2,553.9 L315.7,554.0 L316.2,554.2 L316.8,554.0 L317.3,554.2 L317.8,553.8 L318.3,553.7 L318.7,554.3 L318.8,553.9 L319.3,553.9 L319.8,554.1 L320.3,553.9 L320.8,553.8 L321.3,553.9 L321.8,554.1 L322.4,554.2 L322.9,553.6 L323.4,554.3 L323.9,553.8 L324.4,554.1 L324.9,554.3 L325.4,554.2 L325.9,554.3 L326.4,554.3 L326.9,554.0 L327.4,554.1 L327.9,554.4 L328.5,554.3 L329.0,554.2 L329.5,554.5 L330.0,554.3 L330.5,554.6 L331.0,554.5 L331.5,554.3 L332.0,553.9 L332.5,554.5 L333.0,554.7 L333.5,554.6 L334.0,554.0 L334.6,554.6 L335.1,554.7 L335.6,554.6 L336.1,554.8 L336.6,554.6 L337.1,554.9 L337.6,554.7 L338.1,554.2 L338.6,554.8 L338.8,554.9 L339.1,554.5 L339.6,554.5 L340.1,554.6 L340.7,554.5 L341.2,554.5 L341.7,554.2 L342.2,554.7 L342.5,554.5 L342.7,514.5 L343.0,458.9 L343.2,424.8 L343.4,396.2 L343.7,384.0 L343.9,377.9 L344.2,389.5 L344.5,400.3 L344.7,404.5 L345.2,416.4 L345.3,418.5 L345.7,410.2 L346.2,400.4 L346.2,400.6 L346.8,405.2 L347.2,409.3 L347.3,408.6 L347.8,398.1 L348.1,389.4 L348.3,372.7 L348.4,361.0 L348.8,351.0 L349.3,335.6 L349.5,330.0 L349.8,319.2 L350.3,300.6 L350.8,281.7 L350.9,280.4 L351.3,262.6 L351.8,244.0 L352.2,226.5 L352.4,227.6 L352.9,218.7 L353.3,206.7 L353.4,206.2 L353.9,188.6 L354.4,180.7 L354.9,173.4 L355.2,171.5 L355.4,162.4 L355.9,145.2 L356.1,148.6 L356.4,142.1 L356.9,138.8 L357.4,132.5 L357.9,127.7 L358.1,129.3 L358.5,120.4 L359.0,117.4 L359.5,112.9 L360.0,109.2 L360.0,109.0 L360.5,109.1 L360.9,110.5 L361.0,110.1 L361.5,104.5 L361.6,103.5 L362.0,98.7 L362.5,97.6 L362.5,97.3 L363.0,96.2 L363.4,95.2 L363.5,94.3 L364.0,93.7 L364.5,92.9 L364.6,93.3 L365.1,93.1 L365.6,92.7 L366.0,92.6 L366.1,93.0 L366.6,93.2 L367.1,93.9 L367.5,93.7 L367.6,94.1 L368.1,94.9 L368.6,95.8 L369.1,95.8 L369.4,96.7 L369.6,96.0 L370.1,97.4 L370.7,97.3 L371.2,97.9 L371.7,98.3 L372.2,99.0 L372.7,99.1 L373.0,99.8 L373.2,99.7 L373.7,100.4 L374.2,100.6 L374.7,100.6 L375.2,101.5 L375.7,101.7 L376.2,101.5 L376.3,102.3 L376.8,102.3 L377.3,103.0 L377.8,103.3 L378.3,103.8 L378.8,104.0 L379.0,103.9 L379.3,104.1 L379.8,105.0 L380.3,105.3 L380.8,104.6 L381.3,105.4 L381.8,105.5 L382.4,105.8 L382.9,105.4 L383.4,105.5 L383.9,106.1 L384.0,106.1 L384.4,106.6 L384.9,106.3 L385.4,106.6 L385.9,105.9 L386.4,106.4 L386.9,106.2 L387.4,106.7 L387.9,106.2 L388.5,107.1 L389.0,106.8 L389.5,106.9 L389.7,106.9 L390.0,107.0 L390.5,107.1 L391.0,107.0 L391.5,107.1 L392.0,107.5 L392.5,107.3 L393.0,107.3 L393.5,106.8 L394.0,106.9 L394.6,106.4 L395.1,106.3 L395.6,106.2 L396.1,106.8 L396.6,106.4 L397.1,106.7 L397.6,106.5 L398.1,106.1 L398.6,106.5 L399.1,106.3 L399.6,106.3 L400.2,106.1 L400.5,106.2 L400.7,105.2 L401.2,105.5 L401.7,106.2 L402.2,106.7 L402.7,106.2 L403.2,106.0 L403.7,105.5 L404.2,105.4 L404.7,106.0 L405.2,105.1 L405.7,105.1 L406.3,105.1 L406.8,105.1 L407.3,105.4 L407.8,106.0 L408.3,105.6 L408.8,105.8 L409.3,105.4 L409.8,105.3 L409.8,105.3 L410.3,105.4 L410.8,105.2 L411.3,105.8 L411.8,106.0 L412.4,106.3 L412.7,106.6 L412.9,106.4 L413.4,106.4 L413.5,106.0 L413.9,186.4 L414.0,201.9 L414.4,261.8 L414.4,263.8 L414.9,282.5 L414.9,281.5 L415.4,264.8 L415.5,260.7 L415.9,252.0 L416.3,242.1 L416.4,243.8 L416.9,254.3 L417.2,260.3 L417.4,258.0 L417.9,254.0 L418.2,250.9 L418.5,255.8 L419.0,267.3 L419.1,271.4 L419.4,299.6 L419.5,301.9 L420.0,315.6 L420.5,329.4 L420.5,326.4 L421.0,348.2 L421.5,366.1 L421.9,379.5 L422.0,385.4 L422.5,403.7 L423.0,422.6 L423.2,429.7 L423.5,436.8 L424.1,451.0 L424.3,453.9 L424.6,468.5 L425.1,469.3 L425.6,483.7 L426.1,490.6 L426.2,490.8 L426.6,501.8 L427.1,510.9 L427.1,515.4 L427.6,518.3 L428.1,524.5 L428.6,530.8 L429.1,536.1 L429.1,536.4 L429.6,541.5 L430.2,547.6 L430.7,549.6 L431.0,551.9 L431.2,550.8 L431.7,549.6 L431.9,548.8 L432.2,549.9 L432.6,556.2 L432.7,556.1 L433.2,559.4 L433.5,561.4 L433.7,564.4 L434.2,562.9 L434.4,564.5 L434.7,565.2 L435.2,565.9 L435.5,566.5 L435.7,565.7 L436.3,566.3 L436.8,566.0 L437.0,566.3 L437.3,565.9 L437.8,565.9 L438.3,565.2 L438.5,565.4 L438.8,564.8 L439.3,563.7 L439.8,563.9 L440.3,563.4 L440.4,563.1 L440.8,563.1 L441.3,562.0 L441.8,562.6 L442.4,561.7 L442.9,561.3 L443.4,560.9 L443.9,560.3 L444.0,560.6 L444.4,559.9 L444.9,559.5 L445.4,558.6 L445.9,558.6 L446.4,557.6 L446.9,557.6 L447.2,557.2 L447.4,557.0 L447.9,556.9 L448.5,556.4 L449.0,555.9 L449.5,555.6 L450.0,555.7 L450.0,555.2 L450.5,554.7 L451.0,555.0 L451.5,554.6 L452.0,554.3 L452.5,554.5 L453.0,553.7 L453.5,554.1 L454.1,553.7 L454.6,553.9 L455.0,553.6 L455.1,553.7 L455.6,553.8 L456.1,553.6 L456.6,553.8 L457.1,553.5 L457.6,553.5 L458.1,553.5 L458.6,553.8 L459.1,553.6 L459.6,553.6 L460.2,553.4 L460.7,553.7 L460.7,553.3 L461.2,553.4 L461.7,553.7 L462.2,553.7 L462.7,553.8 L463.2,553.9 L463.7,553.4 L464.2,554.0 L464.7,554.2 L465.2,554.1 L465.7,553.8 L466.3,553.9 L466.8,554.2 L467.3,553.7 L467.8,553.9 L468.3,553.9 L468.8,553.7 L469.3,554.2 L469.8,554.4 L470.3,554.2 L470.8,554.7 L471.3,554.4 L471.5,554.2 L471.8,554.3 L472.4,554.4 L472.9,554.8 L473.4,553.9 L473.9,554.3 L474.4,554.5 L474.9,554.4 L475.4,554.6 L475.9,554.2 L476.4,554.8 L476.9,554.7 L477.4,554.7 L478.0,554.9 L478.5,555.0 L479.0,555.1 L479.5,555.0 L480.0,555.4 L480.5,555.0 L480.8,555.0 L481.0,555.4 L481.5,554.7 L482.0,554.9 L482.5,554.4 L483.0,554.6 L483.5,554.7 L483.7,554.5 L484.1,554.8 L484.5,554.5 L484.6,541.7 L485.0,459.1 L485.1,442.5 L485.4,396.3 L485.6,388.9 L485.9,378.6 L486.1,385.3 L486.5,400.2 L486.6,401.5 L487.1,413.5 L487.3,418.2 L487.6,412.5 L488.1,402.2 L488.2,399.5 L488.6,403.0 L489.1,407.7 L489.2,408.9 L489.6,400.0 L490.1,389.0 L490.2,388.2 L490.4,360.4 L490.7,352.2 L491.2,326.9 L491.5,330.0 L491.7,324.0 L492.2,305.1 L492.7,286.5 L492.9,280.9 L493.2,268.2 L493.7,249.5 L494.2,231.6 L494.2,231.2 L494.7,220.6 L495.2,209.8 L495.3,207.6 L495.7,198.2 L496.3,183.6 L496.8,177.3 L497.2,168.9 L497.3,166.7 L497.8,149.4 L498.1,150.2 L498.3,147.0 L498.8,140.6 L499.3,134.6 L499.8,128.1 L500.1,124.4 L500.3,122.2 L500.8,120.0 L501.3,115.5 L501.9,114.2 L502.0,108.6 L502.4,109.9 L502.9,111.0 L502.9,111.6 L503.4,102.7 L503.6,106.8 L503.9,102.4 L504.4,96.7 L504.5,97.9 L504.9,96.6 L505.4,94.7 L505.4,95.2 L505.9,94.4 L506.4,93.6 L506.5,93.3 L506.9,93.3 L507.4,93.1 L508.0,93.5 L508.0,92.7 L508.5,93.9 L509.0,94.1 L509.5,93.9 L509.5,94.0 L510.0,95.1 L510.5,95.2 L511.0,95.9 L511.4,95.7 L511.5,96.7 L512.0,97.2 L512.5,97.5 L513.0,97.8 L513.5,98.3 L514.1,98.9 L514.6,99.5 L515.0,99.5 L515.1,99.6 L515.6,100.5 L516.1,100.6 L516.6,101.3 L517.1,101.8 L517.6,101.9 L518.1,102.3 L518.2,102.3 L518.6,102.7 L519.1,102.6 L519.6,103.2 L520.2,103.7 L520.7,103.7 L521.0,104.2 L521.2,104.2 L521.7,104.1 L522.2,104.5 L522.7,104.8 L523.2,104.8 L523.7,104.9 L524.2,105.2 L524.7,105.7 L525.2,106.3 L525.8,106.5 L526.0,106.8 L526.3,106.4 L526.8,106.3 L527.3,106.5 L527.8,106.7 L528.3,107.0 L528.8,106.6 L529.3,106.7 L529.8,106.9 L530.3,107.2 L530.8,107.2 L531.3,107.2 L531.7,106.9 L531.9,107.0 L532.4,107.5 L532.9,107.2 L533.4,107.1 L533.9,107.1 L534.4,106.5 L534.9,106.0 L535.4,106.4 L535.9,106.7 L536.4,106.8 L536.9,106.4 L537.4,106.4 L538.0,106.2 L538.5,106.3 L539.0,105.8 L539.5,106.0 L540.0,105.8 L540.5,106.0 L541.0,105.7 L541.5,105.5 L542.0,105.6 L542.5,105.5 L542.5,105.7 L543.0,105.7 L543.5,105.5 L544.1,105.0 L544.6,105.3 L545.1,105.0 L545.6,105.4 L546.1,104.6 L546.6,105.2 L547.1,105.2 L547.6,104.8 L548.1,104.8 L548.6,105.0 L549.1,105.2 L549.6,105.1 L550.2,104.8 L550.7,105.3 L551.2,105.3 L551.7,105.6 L551.8,105.3 L552.2,105.5 L552.7,105.7 L553.2,106.2 L553.7,106.3 L554.2,106.3 L554.7,106.5 L554.7,106.3 L555.2,106.0 L555.5,106.2 L555.8,159.6 L556.0,201.8 L556.3,244.4 L556.4,264.4 L556.8,279.4 L556.9,283.0 L557.3,269.3 L557.5,260.7 L557.8,254.6 L558.3,243.0 L558.3,241.8 L558.8,251.7 L559.2,260.3 L559.3,259.7 L559.8,254.7 L560.2,251.4 L560.3,253.1 L560.8,264.4 L561.1,270.8 L561.3,295.5 L561.4,299.5 L561.9,319.8 L562.4,326.2 L562.5,330.1 L562.9,343.0 L563.4,361.7 L563.9,380.0 L563.9,380.5 L564.4,399.1 L564.9,418.2 L565.2,427.6 L565.4,433.1 L565.9,440.1 L566.3,453.1 L566.4,455.6 L566.9,466.1 L567.4,468.4 L568.0,487.8 L568.2,491.9 L568.5,498.0 L569.0,508.9 L569.1,510.4 L569.5,515.3 L570.0,522.1 L570.5,529.0 L571.0,535.1 L571.1,530.4 L571.5,539.4 L572.0,543.5 L572.5,547.4 L573.0,551.6 L573.0,551.0 L573.5,550.0 L573.9,550.8 L574.1,550.8 L574.6,557.3 L574.6,556.6 L575.1,557.7 L575.5,562.3 L575.6,562.6 L576.1,563.6 L576.4,564.7 L576.6,565.4 L577.1,566.3 L577.5,566.7 L577.6,566.4 L578.1,566.3 L578.6,566.8 L579.0,566.5 L579.1,566.7 L579.7,566.2 L580.2,566.0 L580.5,565.8 L580.7,565.2 L581.2,564.7 L581.7,564.2 L582.2,563.7 L582.4,563.0 L582.7,562.3 L583.2,562.4 L583.7,562.4 L584.2,562.3 L584.7,561.3 L585.2,560.4 L585.8,560.4 L586.0,560.5 L586.3,559.9 L586.8,559.1 L587.3,559.0 L587.8,558.6 L588.3,558.1 L588.8,557.9 L589.2,557.2 L589.3,557.2 L589.8,556.5 L590.3,556.4 L590.8,555.6 L591.3,556.0 L591.9,555.9 L592.0,556.0 L592.4,555.6 L592.9,555.3 L593.4,555.5 L593.9,555.0 L594.4,555.7 L594.9,554.9 L595.4,554.6 L595.9,554.4 L596.4,554.3 L596.9,554.4 L597.0,554.2 L597.4,554.2 L598.0,554.1 L598.5,553.9 L599.0,553.9 L599.5,553.7 L600.0,553.6 L600.5,553.4 L601.0,553.7 L601.5,553.5 L602.0,553.9 L602.5,553.3 L602.7,553.7 L603.0,553.8 L603.6,553.7 L604.1,553.8 L604.6,553.8 L605.1,553.9 L605.6,554.2 L606.1,554.6 L606.6,554.3 L607.1,554.1 L607.6,554.2 L608.1,554.2 L608.6,554.3 L609.1,554.2 L609.7,554.3 L610.2,554.3 L610.7,553.9 L611.2,554.1 L611.7,554.0 L612.2,553.7 L612.7,553.9 L613.2,553.6 L613.5,553.9 L613.7,554.0 L614.2,554.2 L614.7,554.3 L615.2,554.1 L615.8,554.5 L616.3,554.5 L616.8,554.0 L617.3,554.5 L617.8,555.0 L618.3,554.5 L618.8,554.5 L619.3,555.1 L619.8,554.8 L620.3,554.8 L620.8,555.3 L621.3,555.2 L621.9,555.6 L622.4,555.1 L622.8,554.9 L622.9,554.9 L623.4,555.4 L623.9,554.9 L624.4,555.0 L624.9,554.8 L625.4,554.6 L625.7,554.6 L625.9,554.0 L626.4,554.3 L626.5,554.3 L626.9,460.7 L627.0,458.7 L627.4,396.2 L627.5,394.7 L627.9,377.9 L628.0,381.5 L628.5,397.5 L628.5,399.8 L629.0,409.7 L629.3,418.2 L629.5,415.0 L630.0,404.7 L630.2,400.1 L630.5,402.4 L631.0,406.3 L631.2,408.9 L631.5,402.6 L632.0,391.7 L632.1,388.2 L632.4,360.3 L632.5,356.0 L633.0,357.7 L633.5,329.9 L633.6,328.5 L634.1,309.7 L634.6,290.6 L634.9,280.2 L635.1,272.5 L635.6,253.4 L636.1,235.1 L636.2,230.6 L636.6,222.5 L637.1,209.8 L637.3,206.9 L637.6,200.9 L638.1,195.3 L638.6,186.8 L639.1,168.1 L639.2,167.9 L639.7,158.1 L640.1,153.8 L640.2,148.7 L640.7,139.2 L641.2,135.9 L641.7,128.6 L642.1,123.9 L642.2,123.2 L642.7,119.2 L643.2,114.7 L643.7,110.8 L644.0,108.2 L644.2,109.0 L644.7,109.5 L644.9,111.2 L645.2,107.2 L645.6,102.2 L645.8,101.8 L646.3,99.4 L646.5,98.8 L646.8,97.0 L647.3,95.5 L647.4,93.2 L647.8,94.6 L648.3,93.7 L648.5,93.6 L648.8,94.2 L649.3,93.8 L649.8,94.0 L650.0,93.5 L650.3,94.1 L650.8,94.1 L651.3,94.7 L651.5,95.1 L651.9,95.5 L652.4,96.3 L652.9,96.4 L653.4,97.2 L653.4,97.6 L653.9,97.4 L654.4,97.9 L654.9,98.2 L655.4,98.2 L655.9,99.1 L656.4,98.6 L656.9,99.7 L657.0,99.3 L657.5,99.9 L658.0,100.3 L658.5,101.3 L659.0,101.1 L659.5,101.5 L660.0,101.4 L660.2,101.5 L660.5,102.4 L661.0,102.8 L661.5,103.1 L662.0,104.1 L662.5,103.9 L663.0,104.5 L663.0,104.7 L663.6,104.4 L664.1,105.2 L664.6,105.4 L665.1,105.4 L665.6,105.9 L666.1,105.6 L666.6,106.5 L667.1,106.4 L667.6,106.9 L668.0,106.6 L668.1,106.9 L668.6,106.8 L669.1,106.6 L669.7,106.5 L670.2,107.0 L670.7,106.8 L671.2,107.4 L671.7,107.2 L672.2,107.3 L672.7,107.1 L673.2,107.2 L673.7,107.0 L673.7,107.5 L674.2,107.4 L674.7,107.1 L675.2,106.9 L675.8,106.8 L676.3,107.0 L676.8,106.3 L677.3,106.7 L677.8,106.4 L678.3,106.4 L678.8,106.8 L679.3,106.7 L679.8,106.6 L680.3,106.4 L680.8,106.4 L681.4,106.5 L681.9,106.4 L682.4,106.0 L682.9,106.1 L683.4,106.4 L683.9,106.4 L684.4,106.0 L684.5,105.7 L684.9,105.7 L685.4,105.4 L685.9,105.5 L686.4,105.5 L686.9,105.5 L687.5,105.3 L688.0,105.7 L688.5,105.2 L689.0,105.4 L689.5,105.3 L690.0,105.3 L690.5,105.0 L691.0,105.2 L691.5,104.8 L692.0,105.0 L692.5,104.8 L693.0,104.6 L693.6,104.7 L693.8,104.5 L694.1,103.8 L694.6,104.4 L695.1,105.0 L695.6,104.9 L696.1,105.3 L696.6,105.4 L696.7,105.2 L697.1,105.7 L697.5,106.0 L697.6,131.5 L698.0,201.4 L698.1,226.1 L698.4,264.1 L698.6,274.1 L698.9,282.2 L699.1,273.1 L699.5,260.6 L699.7,258.0 L700.2,245.8 L700.3,241.7 L700.7,249.5 L701.2,259.6 L701.2,260.2 L701.7,256.5 L702.2,251.8 L702.2,251.2 L702.7,262.1 L703.1,272.5 L703.2,280.1 L703.4,299.8 L703.7,306.5 L704.2,320.2 L704.5,330.7 L704.7,339.0 L705.3,357.8 L705.8,376.4 L705.9,380.2 L706.3,395.1 L706.8,413.6 L707.2,438.1 L707.3,431.1 L707.8,448.3 L708.3,452.3 L708.3,453.1 L708.8,469.2 L709.3,473.8 L709.8,484.9 L710.2,492.3 L710.3,496.1 L710.8,507.0 L711.1,510.9 L711.4,519.4 L711.9,520.3 L712.4,527.4 L712.9,534.2 L713.1,535.8 L713.4,536.6 L713.9,541.6 L714.4,547.2 L714.9,549.3 L715.0,552.6 L715.4,549.6 L715.9,549.7 L715.9,551.7 L716.4,551.6 L716.6,556.8 L716.9,557.6 L717.5,563.5 L717.5,562.3 L718.0,562.5 L718.4,565.6 L718.5,565.2 L719.0,565.7 L719.5,566.8 L719.5,566.3 L720.0,566.1 L720.5,566.3 L721.0,566.8 L721.0,566.2 L721.5,566.0 L722.0,565.9 L722.5,565.3 L722.5,565.3 L723.0,564.6 L723.6,563.8 L724.1,563.4 L724.4,562.6 L724.6,562.7 L725.1,562.2 L725.6,561.4 L726.1,561.5 L726.6,561.2 L727.1,560.4 L727.6,560.7 L728.0,559.9 L728.1,560.6 L728.6,559.7 L729.2,559.5 L729.7,559.6 L730.2,559.0 L730.7,558.3 L731.2,557.9 L731.2,558.3 L731.7,557.9 L732.2,557.4 L732.7,557.2 L733.2,556.9 L733.7,557.0 L734.0,556.0 L734.2,556.7 L734.7,555.9 L735.3,556.3 L735.8,556.0 L736.3,555.3 L736.8,555.0 L737.3,555.0 L737.8,554.3 L738.3,554.5 L738.8,554.2 L739.0,554.1 L739.3,554.3 L739.8,553.8 L740.3,554.0 L740.8,553.5 L741.4,553.5 L741.9,553.5 L742.4,553.5 L742.9,553.5 L743.4,553.5 L743.9,552.8 L744.4,553.1 L744.7,553.0 L744.9,553.3 L745.4,553.4 L745.9,553.5 L746.4,552.8 L746.9,553.2 L747.5,552.9 L748.0,553.4 L748.5,553.1 L749.0,553.2 L749.5,553.4 L750.0,553.4 L750.5,553.6 L751.0,554.2 L751.5,553.9 L752.0,554.0 L752.5,554.0 L753.0,554.1 L753.6,554.3 L754.1,554.4 L754.6,554.5 L755.1,554.7 L755.5,554.7 L755.6,554.5 L756.1,554.3 L756.6,554.6 L757.1,554.4 L757.6,554.7 L758.1,555.0 L758.6,554.5 L759.2,555.3 L759.7,555.2 L760.2,555.5 L760.7,555.4 L761.2,555.1 L761.7,555.6 L762.2,555.3 L762.7,555.3 L763.2,555.4 L763.7,555.5 L764.2,555.6 L764.7,555.4 L764.8,555.0 L765.3,555.5 L765.8,554.6 L766.3,554.6 L766.8,554.6 L767.3,554.4 L767.7,554.6 L767.8,554.3 L768.3,554.4 L768.5,554.3 L768.8,488.0 L769.0,458.8 L769.3,407.4 L769.4,396.6 L769.8,379.0 L769.9,377.7 L770.3,393.6 L770.5,399.9 L770.8,407.4 L771.3,418.3 L771.4,417.7 L771.9,407.3 L772.2,400.0 L772.4,401.3 L772.9,406.0 L773.2,409.3 L773.4,405.9 L773.9,394.5 L774.1,389.3 L774.4,360.7 L774.4,360.1 L774.9,337.9 L775.4,332.4 L775.5,330.0 L775.9,314.4 L776.4,296.2 L776.9,280.6 L776.9,277.2 L777.5,259.0 L778.0,240.1 L778.2,235.6 L778.5,225.5 L779.0,212.8 L779.3,206.9 L779.5,204.2 L780.0,193.1 L780.5,186.9 L781.0,171.6 L781.2,170.8 L781.5,160.9 L782.0,149.7 L782.1,150.3 L782.5,147.7 L783.1,137.7 L783.6,126.2 L784.1,124.5 L784.1,124.0 L784.6,117.6 L785.1,116.3 L785.6,113.3 L786.0,109.0 L786.1,109.1 L786.6,110.4 L786.9,110.8 L787.1,111.7 L787.6,104.0 L787.6,103.9 L788.1,100.7 L788.5,98.0 L788.6,99.2 L789.2,97.8 L789.4,96.1 L789.7,95.7 L790.2,94.8 L790.5,94.6 L790.7,94.7 L791.2,94.7 L791.7,94.8 L792.0,95.0 L792.2,94.7 L792.7,95.1 L793.2,96.0 L793.5,95.4 L793.7,95.5 L794.2,95.9 L794.7,96.8 L795.3,97.3 L795.4,97.7 L795.8,98.0 L796.3,98.6 L796.8,98.7 L797.3,98.9 L797.8,99.3 L798.3,99.7 L798.8,100.2 L799.0,100.2 L799.3,100.4 L799.8,100.7 L800.3,101.4 L800.8,101.6 L801.4,101.5 L801.9,102.5 L802.2,102.5 L802.4,102.3 L802.9,102.5 L803.4,103.1 L803.9,103.5 L804.4,103.2 L804.9,103.9 L805.0,104.3 L805.4,104.8 L805.9,105.1 L806.4,105.2 L807.0,105.7 L807.5,105.7 L808.0,106.4 L808.5,106.3 L809.0,106.4 L809.5,106.6 L810.0,106.6 L810.0,106.9 L810.5,107.3 L811.0,106.3 L811.5,106.4 L812.0,106.5 L812.5,106.7 L813.1,107.5 L813.6,107.1 L814.1,107.1 L814.6,106.9 L815.1,106.8 L815.6,107.3 L815.7,107.2 L816.1,106.6 L816.6,106.5 L817.1,106.7 L817.6,106.4 L818.1,106.6 L818.6,106.7 L819.2,106.3 L819.7,106.2 L820.2,106.4 L820.7,106.1 L821.2,105.8 L821.7,105.6 L822.2,105.6 L822.7,105.5 L823.2,105.9 L823.7,105.8 L824.2,105.9 L824.7,105.9 L825.3,105.4 L825.8,106.0 L826.3,105.7 L826.5,105.6 L826.8,105.6 L827.3,106.0 L827.8,105.3 L828.3,105.3 L828.8,105.0 L829.3,105.5 L829.8,105.7 L830.3,105.0 L830.9,105.7 L831.4,105.8 L831.9,105.9 L832.4,105.7 L832.9,106.0 L833.4,106.0 L833.9,105.6 L834.4,105.7 L834.9,105.9 L835.4,106.2 L835.8,106.0 L835.9,106.4 L836.4,105.9 L837.0,106.4 L837.5,106.2 L838.0,106.2 L838.5,106.2 L838.7,106.0 L839.0,106.0 L839.5,106.4 L839.5,105.9 L840.0,201.7 L840.0,208.4 L840.4,264.1 L840.5,268.8 L840.9,282.6 L841.0,276.7 L841.5,260.1 L841.5,260.2 L842.0,248.6 L842.3,242.1 L842.5,246.2 L843.1,256.5 L843.2,260.1 L843.6,257.2 L844.1,252.9 L844.2,251.0 L844.6,258.2 L845.1,269.8 L845.1,270.9 L845.4,299.7 L845.6,314.7 L846.1,319.3 L846.5,329.6 L846.6,334.0 L847.1,352.3 L847.6,371.2 L847.9,379.3 L848.1,389.7 L848.6,408.5 L849.2,427.4 L849.2,430.1 L849.7,442.5 L850.2,446.1 L850.3,453.5 L850.7,466.4 L851.2,471.5 L851.7,477.6 L852.2,491.9 L852.2,492.8 L852.7,503.6 L853.1,510.2 L853.2,512.6 L853.7,519.3 L854.2,527.4 L854.7,531.9 L855.1,535.2 L855.3,536.4 L855.8,540.2 L856.3,545.4 L856.8,549.1 L857.0,552.8 L857.3,550.5 L857.8,549.4 L857.9,548.6 L858.3,552.6 L858.6,556.7 L858.8,557.5 L859.3,560.5 L859.5,563.9 L859.8,563.0 L860.3,564.6 L860.4,565.9 L860.9,565.0 L861.4,566.6 L861.5,566.5 L861.9,566.4 L862.4,566.8 L862.9,566.6 L863.0,566.7 L863.4,566.5 L863.9,565.8 L864.4,565.5 L864.5,564.4 L864.9,564.9 L865.4,564.0 L865.9,563.6 L866.4,563.0 L866.4,563.0 L867.0,562.0 L867.5,561.8 L868.0,561.3 L868.5,560.8 L869.0,560.4 L869.5,559.4 L870.0,559.2 L870.0,559.5 L870.5,559.1 L871.0,558.3 L871.5,558.0 L872.0,557.7 L872.5,557.9 L873.1,557.4 L873.2,557.0 L873.6,556.9 L874.1,556.9 L874.6,556.7 L875.1,556.5 L875.6,556.8 L876.0,556.1 L876.1,556.6 L876.6,556.2 L877.1,555.6 L877.6,555.3 L878.1,554.7 L878.6,555.1 L879.2,554.8 L879.7,554.7 L880.2,554.0 L880.7,554.1 L881.0,554.0 L881.2,553.8 L881.7,553.4 L882.2,553.7 L882.7,553.4 L883.2,553.3 L883.7,553.7 L884.2,553.8 L884.8,553.8 L885.3,553.8 L885.8,553.5 L886.3,553.0 L886.7,552.8 L886.8,553.3 L887.3,553.4 L887.8,553.4 L888.3,553.6 L888.8,553.4 L889.3,553.4 L889.8,553.6 L890.3,553.8 L890.9,554.1 L891.4,553.7 L891.9,553.9 L892.4,553.8 L892.9,553.7 L893.4,554.2 L893.9,554.3 L894.4,554.4 L894.9,553.8 L895.4,554.4 L895.9,554.3 L896.4,553.7 L897.0,554.1 L897.5,554.4 L897.5,553.9 L898.0,554.1 L898.5,554.4 L899.0,554.0 L899.5,554.7 L900.0,554.5 L900.5,554.4 L901.0,554.6 L901.5,554.8 L902.0,554.8 L902.5,554.1 L903.1,554.3 L903.6,554.9 L904.1,555.0 L904.6,555.2 L905.1,555.3 L905.6,555.1 L906.1,555.8 L906.6,555.7 L906.8,555.6 L907.1,555.2 L907.6,555.0 L908.1,555.0 L908.7,554.6 L909.2,554.6 L909.7,554.9 L909.7,554.5 L910.2,554.8 L910.5,554.4 L910.7,515.3 L911.0,458.4 L911.2,425.5 L911.4,395.6 L911.7,383.8 L911.9,377.7 L912.2,388.8 L912.5,399.9 L912.7,403.8 L913.2,416.1 L913.3,417.8 L913.7,409.7 L914.2,399.8 L914.2,399.9 L914.8,404.4 L915.2,409.3 L915.3,408.8 L915.8,397.7 L916.1,388.8 L916.3,373.1 L916.4,360.2 L916.8,338.0 L917.3,336.0 L917.5,330.7 L917.8,319.1 L918.3,300.8 L918.8,282.2 L918.9,280.4 L919.3,263.5 L919.8,244.9 L920.2,230.8 L920.3,227.9 L920.9,218.3 L921.3,203.8 L921.4,216.2 L921.9,196.3 L922.4,188.2 L922.9,174.0 L923.2,172.9 L923.4,163.6 L923.9,151.4 L924.1,151.6 L924.4,148.6 L924.9,139.0 L925.4,133.2 L925.9,124.1 L926.1,123.9 L926.4,119.5 L927.0,114.1 L927.5,111.2 L928.0,109.1 L928.0,105.6 L928.5,109.9 L928.9,110.4 L929.0,109.7 L929.5,104.7 L929.6,103.6 L930.0,102.6 L930.5,97.9 L930.5,98.1 L931.0,94.8 L931.4,95.4 L931.5,94.5 L932.0,94.0 L932.5,93.7 L932.6,93.2 L933.1,93.8 L933.6,93.9 L934.0,93.8 L934.1,94.3 L934.6,94.4 L935.1,95.0 L935.5,95.0 L935.6,94.8 L936.1,95.4 L936.6,96.7 L937.1,96.2 L937.4,97.2 L937.6,97.1 L938.1,98.1 L938.7,98.2 L939.2,98.5 L939.7,99.2 L940.2,99.1 L940.7,99.7 L941.0,100.4 L941.2,100.1 L941.7,100.6 L942.2,101.3 L942.7,101.6 L943.2,101.5 L943.7,102.0 L944.2,102.6 L944.2,103.1 L944.8,103.0 L945.3,103.5 L945.8,103.1 L946.3,103.5 L946.8,104.3 L947.0,104.4 L947.3,104.2 L947.8,104.3 L948.3,104.5 L948.8,105.2 L949.3,104.9"/>
</g>
<text x="272.2" y="622" text-anchor="middle">0</text><text x="385.2" y="622" text-anchor="middle">10</text><text x="498.2" y="622" text-anchor="middle">20</text><text x="611.2" y="622" text-anchor="middle">30</text><text x="724.2" y="622" text-anchor="middle">40</text><text x="837.2" y="622" text-anchor="middle">50</text><text x="950.2" y="622" text-anchor="middle">60</text><text x="267" y="58.6" text-anchor="end">15</text><text x="267" y="150.6" text-anchor="end">10</text><text x="267" y="242.6" text-anchor="end">5</text><text x="267" y="334.6" text-anchor="end">0</text><text x="267" y="426.6" text-anchor="end">-5</text><text x="267" y="518.6" text-anchor="end">-10</text><text x="267" y="610.4" text-anchor="end">-15</text>
<text x="611.1" y="48.3" text-anchor="middle" style="font-size:13px;font-weight:bold;fill:#1c1c1c">Simulation Results</text>
<text x="611.2" y="637.5" text-anchor="middle" style="font-size:13.2px">Simulation Time</text>
<rect x="807.5" y="65.5" width="131" height="45" style="fill:#fff;stroke:#262626;stroke-width:1;shape-rendering:crispEdges"/>
<line x1="810.5" y1="74.5" x2="850.5" y2="74.5" stroke="#77ac30"/>
<line x1="810.5" y1="88.5" x2="850.5" y2="88.5" stroke="#7e2f8e"/>
<line x1="810.5" y1="103.5" x2="850.5" y2="103.5" stroke="#4dbeee"/>
<text x="855" y="77.2" style="font-size:11.1px;fill:#000">logsout1.Values</text>
<text x="855" y="91.3" style="font-size:11.1px;fill:#000">logsout2.Values</text>
<text x="855" y="106" style="font-size:11.1px;fill:#000">logsout3.Values</text>
</svg>
<div class="abs" style="left:1px;top:31px;width:960px;height:640px;border:1px solid #fafafa;border-top:none;pointer-events:none"></div>
<div class="abs frame"></div>
</body></html>
